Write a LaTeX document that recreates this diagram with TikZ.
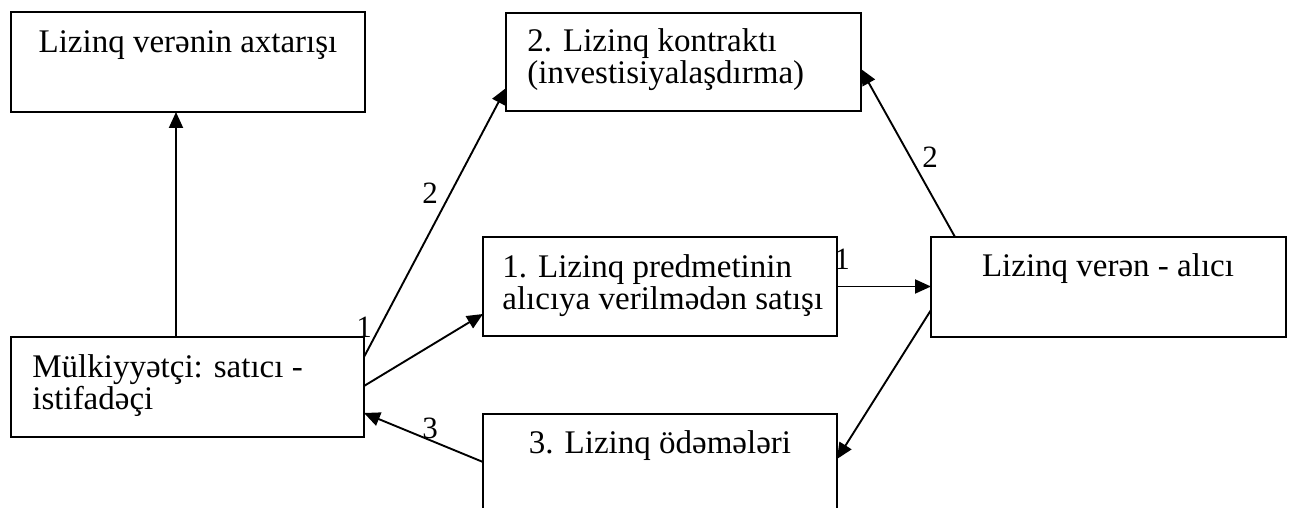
\documentclass[tikz,border=0pt]{standalone}
\usepackage{fontspec}
\setmainfont{Liberation Serif}
\usetikzlibrary{arrows.meta,calc}
% two left-aligned lines, fixed baseline distance, box baseline on the first line
\newcommand\twolines[2]{\vtop{\baselineskip=16pt\lineskiplimit=-30pt\hbox{#1}\hbox{#2}}}
\begin{document}
\begin{tikzpicture}[x=0.5pt,y=-0.5pt,
  box/.style={draw, line width=1pt, rectangle, inner sep=0pt, outer sep=0pt},
  txt/.style={inner sep=0pt, font=\fontsize{16.5}{20}\selectfont},
  lbl/.style={inner sep=0pt, font=\fontsize{15.5}{18}\selectfont},
  arr/.style={line width=0.95pt, -{Triangle[length=8pt,width=7pt]}}]
\useasboundingbox (0,0) rectangle (1290,508);
\clip (0,0) rectangle (1290,508);

% boxes
\node[box, minimum width=177pt,   minimum height=50pt]   (A) at (188,62)     {};
\node[box, minimum width=177.5pt, minimum height=49pt]   (B) at (683.5,62)   {};
\node[box, minimum width=177pt,   minimum height=49.5pt] (C) at (660,286.5)  {};
\node[box, minimum width=177.5pt, minimum height=50pt]   (D) at (1108.5,287) {};
\node[box, minimum width=176.5pt, minimum height=50pt]   (E) at (187.5,387)  {};
\node[box, minimum width=177pt,   minimum height=50pt]   (F) at (660,464)    {};

% box texts
\node[txt, anchor=base] (tA) at (188,53) {Lizinq verənin axtarışı};
\node[txt, anchor=base west] (tB) at (527,52)
  {\twolines{2. Lizinq kontraktı}{(investisiyalaşdırma)}};
\node[txt, anchor=base west] (tC) at (502,277)
  {\twolines{1. Lizinq predmetinin}{alıcıya verilmədən satışı}};
\node[txt, anchor=base] (tD) at (1108,276) {Lizinq verən - alıcı};
\node[txt, anchor=base west] (tE) at (32,377)
  {\twolines{Mülkiyyətçi: satıcı -}{istifadəçi}};
\node[txt, anchor=base] (tF) at (660,453) {3. Lizinq ödəmələri};

% connectors
\draw[arr] ($(E.north west)+(165,0)$) -- ($(A.south west)+(165,0)$);
\draw[arr] ($(E.north east)+(0,20)$) -- ($(B.south west)+(0,-23)$);
\draw[arr] ($(E.north east)+(0,49)$) -- ($(C.south west)+(0,-22)$);
\draw[arr] (C.east) -- (C.east -| D.west);
\draw[arr] ($(D.north west)+(24,0)$) -- ($(B.north east)+(0,56)$);
\draw[arr] ($(D.north west)+(0,73)$) -- ($(F.north east)+(0,45)$);
\draw[arr] ($(F.north west)+(0,48)$) -- ($(E.south east)+(0,-24)$);

% step numbers
\node[lbl, anchor=base] (n1a) at (364,337) {1};
\node[lbl, anchor=base] (n2a) at (430,203) {2};
\node[lbl, anchor=base] (n1b) at (842,269) {1};
\node[lbl, anchor=base] (n2b) at (930,168) {2};
\node[lbl, anchor=base] (n3)  at (430,438) {3};
\end{tikzpicture}
\end{document}
